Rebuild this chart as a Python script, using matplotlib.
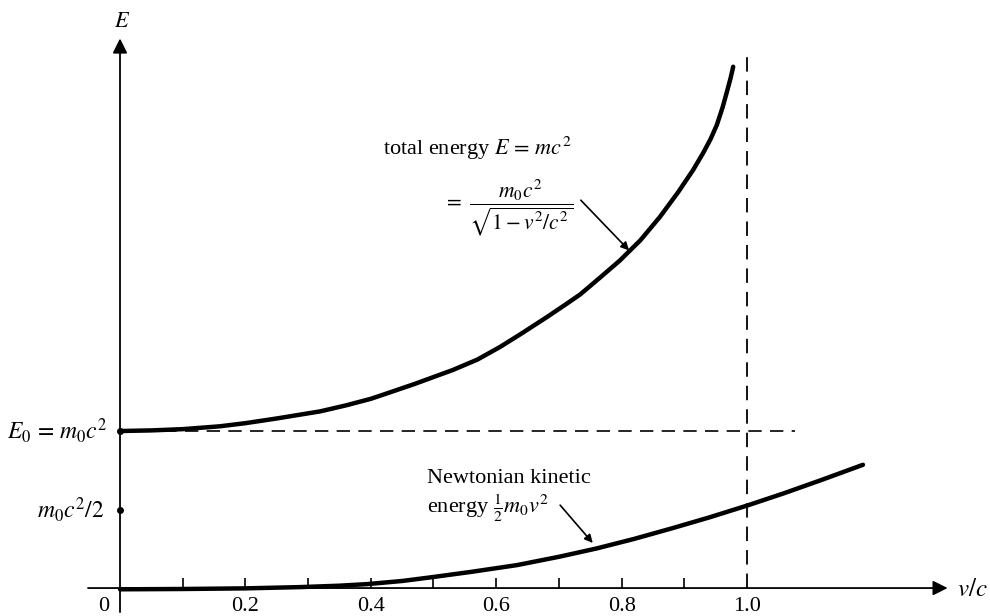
import matplotlib.pyplot as plt
import numpy as np

plt.rcParams['font.family'] = ['Liberation Serif', 'DejaVu Serif']
plt.rcParams['mathtext.fontset'] = 'stix'

# total energy curve (v/c, E in units of m0c^2)
v_total = [0.0, 0.05, 0.10, 0.159, 0.20, 0.25, 0.319, 0.36, 0.40, 0.426, 0.47, 0.531, 0.57,
           0.606, 0.64, 0.681, 0.71, 0.734, 0.765, 0.797, 0.83, 0.861, 0.89, 0.914, 0.930,
           0.942, 0.952, 0.961, 0.968, 0.974, 0.978]
E_total = [1.0, 1.004, 1.012, 1.030, 1.05, 1.08, 1.125, 1.163, 1.205, 1.24, 1.30, 1.389, 1.455,
           1.535, 1.62, 1.726, 1.804, 1.87, 1.975, 2.085, 2.215, 2.363, 2.52, 2.662, 2.77,
           2.86, 2.95, 3.06, 3.16, 3.25, 3.32]

# newtonian kinetic energy curve
v_newton = [0.0, 0.1, 0.2, 0.287, 0.35, 0.394, 0.45, 0.499, 0.56, 0.633, 0.70, 0.76, 0.82,
            0.88, 0.94, 1.0, 1.06, 1.12, 1.185]
E_newton = [-0.008, -0.006, -0.002, 0.006, 0.015, 0.025, 0.045, 0.070, 0.103, 0.146, 0.199,
            0.252, 0.313, 0.38, 0.45, 0.525, 0.605, 0.69, 0.785]

tick_pos = [0.1, 0.2, 0.3, 0.4, 0.5, 0.6, 0.7, 0.8, 0.9]
tick_labels = ['0.2', '0.4', '0.6', '0.8', '1.0']
label_pos = [0.2, 0.4, 0.6, 0.8, 1.0]

fig = plt.figure(figsize=(9.9, 6.16), dpi=100)
ax = fig.add_axes([0, 0, 1, 1])
ax.set_xlim(-0.1914, 1.3876)
ax.set_ylim(-0.178, 3.745)
ax.axis('off')

arr = dict(arrowstyle='-|>', lw=1.3, color='k', mutation_scale=22, shrinkA=0, shrinkB=0)
# axes with arrows
ax.annotate('', xy=(1.32, 0), xytext=(-0.051, 0), arrowprops=arr)
ax.annotate('', xy=(0, 3.5), xytext=(0, -0.153), arrowprops=arr)
ax.text(1.335, -0.01, r'$v/c$', fontsize=18, va='center', ha='left')
ax.text(0.003, 3.60, r'$E$', fontsize=16, va='center', ha='center')

# ticks
ax.vlines(tick_pos, 0, 0.065, color='k', lw=1.2)
for p, s in zip(label_pos, tick_labels):
    ax.text(p, -0.06, s, fontsize=16, ha='center', va='top')
ax.text(-0.026, -0.06, '0', fontsize=16, ha='center', va='top')

# dashed reference lines
ax.plot([0, 1.077], [1, 1], color='k', lw=1.2, ls=(0, (8, 5)))
ax.plot([1, 1], [0, 3.43], color='k', lw=1.3, ls=(0, (8, 5)))

# curves
ax.plot(v_total, E_total, color='k', lw=3.2, solid_capstyle='round', solid_joinstyle='round')
ax.plot(v_newton, E_newton, color='k', lw=3.2, solid_capstyle='round', solid_joinstyle='round')

# marks on the E axis
ax.plot([0, 0], [1, 0.5], 'o', color='k', ms=4)
ax.text(-0.02, 1.0, r'$E_0\, =\, m_0c^2$', fontsize=17, ha='right', va='center')
ax.text(-0.025, 0.5, r'$m_0c^2/2$', fontsize=17, ha='right', va='center')

# annotations
ax.text(0.42, 2.80, r'total energy $E\, =\, mc^2$', fontsize=16, ha='left', va='center')
ax.text(0.515, 2.42, r'$=\ \dfrac{m_0c^2}{\sqrt{1 - v^2/c^2}}$', fontsize=15.5, ha='left', va='center')
ax.annotate('', xy=(0.812, 2.15), xytext=(0.735, 2.47),
            arrowprops=dict(arrowstyle='-|>', lw=1.2, color='k', mutation_scale=12, shrinkA=0, shrinkB=0))

ax.text(0.49, 0.70, 'Newtonian kinetic', fontsize=16, ha='left', va='center')
ax.text(0.49, 0.51, r'energy $\frac{1}{2}m_0v^2$', fontsize=16, ha='left', va='center')
ax.annotate('', xy=(0.754, 0.287), xytext=(0.702, 0.528),
            arrowprops=dict(arrowstyle='-|>', lw=1.2, color='k', mutation_scale=12, shrinkA=0, shrinkB=0))

fig.savefig('out.png', dpi=100)
